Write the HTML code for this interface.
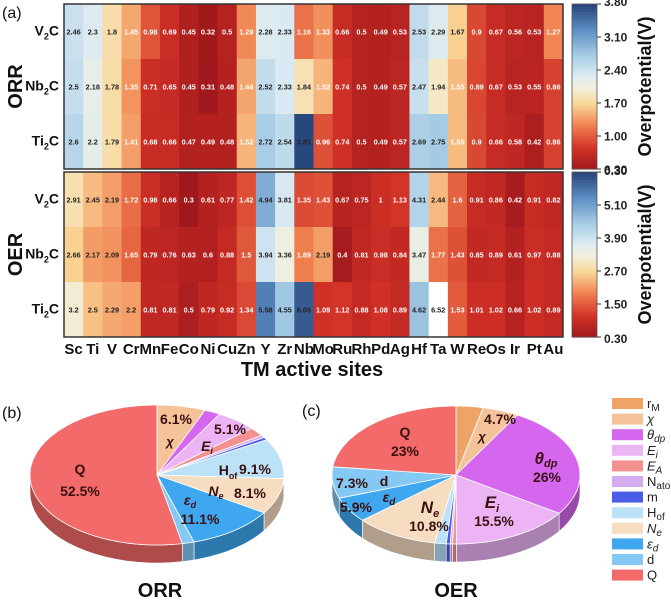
<!DOCTYPE html>
<html><head><meta charset="utf-8">
<style>
html,body{margin:0;padding:0;background:#fff;}
svg{display:block;font-family:"Liberation Sans",Arial,sans-serif;}
</style></head>
<body>
<svg id="fig" width="671" height="604" viewBox="0 0 671 604" xmlns="http://www.w3.org/2000/svg"></svg>
<script>
// ---- heatmap data ----
const elements = ["Sc","Ti","V","Cr","Mn","Fe","Co","Ni","Cu","Zn","Y","Zr","Nb","Mo","Ru","Rh","Pd","Ag","Hf","Ta","W","Re","Os","Ir","Pt","Au"];
const substrates = ["V","Nb","Ti"];
const orrV = [2.46,2.3,1.8,1.45,0.98,0.69,0.45,0.32,0.5,1.29,2.28,2.33,1.16,1.33,0.66,0.5,0.49,0.53,2.53,2.29,1.67,0.9,0.67,0.56,0.53,1.27];
const orrNb = [2.5,2.18,1.78,1.35,0.71,0.65,0.45,0.31,0.48,1.44,2.52,2.33,1.84,1.52,0.74,0.5,0.49,0.57,2.47,1.94,1.55,0.89,0.67,0.53,0.55,0.86];
const orrTi = [2.6,2.2,1.79,1.41,0.68,0.66,0.47,0.49,0.48,1.52,2.72,2.54,3.81,0.96,0.74,0.5,0.49,0.57,2.69,2.75,1.55,0.9,0.66,0.58,0.42,0.86];
const oerV = [2.91,2.45,2.19,1.72,0.98,0.66,0.3,0.61,0.77,1.42,4.94,3.81,1.35,1.43,0.67,0.75,1,1.13,4.31,2.44,1.6,0.91,0.86,0.42,0.91,0.82];
const oerNb = [2.66,2.17,2.09,1.65,0.79,0.76,0.63,0.6,0.88,1.5,3.94,3.36,1.89,2.19,0.4,0.81,0.98,0.84,3.47,1.77,1.43,0.85,0.89,0.61,0.97,0.88];
const oerTi = [3.2,2.5,2.29,2.2,0.81,0.81,0.5,0.79,0.92,1.34,5.58,4.55,6.06,1.09,1.12,0.88,1.08,0.89,4.62,6.52,1.53,1.01,1.02,0.66,1.02,0.89];
const orrTicks = ["0.30","1.00","1.70","2.40","3.10","3.80"];
const oerTicks = ["0.30","1.50","2.70","3.90","5.10","6.30"];
// ---- pie data ----
const pieLabels = ["rM","χ","θdp","Ei","EA","Natom","m","Hof","Ne","εd","d","Q"];
const orrShares = [0,6.1,2,5.1,2,0.6,0.6,9.1,8.1,11.1,1.5,52.5];
const oerShares = [3.5,4.7,26,15.5,0.5,0.3,0.5,1.5,10.8,5.9,7.3,23];
const pieColors = ["#eea466","#f5c39a","#d467ee","#ecb4f5","#f29190","#d3adf0","#4b5fe6","#bce2f8","#f6dcc0","#3fa7ef","#84c9f4","#f26a6a"];

const NS="http://www.w3.org/2000/svg";
const svg=document.getElementById('fig');
function mk(tag,attrs,parent){const e=document.createElementNS(NS,tag);for(const k in attrs)e.setAttribute(k,attrs[k]);(parent||svg).appendChild(e);return e;}

const stops=[[0,[160,24,28]],[0.13,[208,48,38]],[0.27,[240,128,80]],[0.4,[250,214,150]],[0.5,[242,240,222]],[0.58,[218,234,242]],[0.7,[165,203,228]],[0.85,[92,142,196]],[1,[40,72,125]]];
function cmap(t){if(t>1.02)return "rgb(255,255,255)";t=Math.max(0,Math.min(1,t));
 for(let i=1;i<stops.length;i++){if(t<=stops[i][0]){const a=stops[i-1],b=stops[i];const f=(t-a[0])/(b[0]-a[0]);
  const c=a[1].map((v,j)=>Math.round(v+(b[1][j]-v)*f));return `rgb(${c})`;}}return "rgb(40,72,125)";}

const hx0=64,hx1=563,cw=(hx1-hx0)/elements.length,rh=55;
function xCell(i){return hx0+i*cw;}
function drawPanel(rows,y0,vmin,vmax,thr,ticks,name){
 const g=mk('g',{});
 
 
 rows.forEach((row,r)=>{
  row.forEach((v,i)=>{
   const t=(v-vmin)/(vmax-vmin);
   const rc=mk('rect',{x:xCell(i),y:y0+r*rh,width:cw+0.5,height:rh+0.5,fill:cmap(t)},g);
   
   
  });
  row.forEach((v,i)=>{
   const t=(v-vmin)/(vmax-vmin);
   const tx=mk('text',{x:xCell(i)+cw/2,y:y0+r*rh+rh/2+3,'text-anchor':'middle','font-size':'7.3','font-weight':'bold',fill:t<thr?'#fff':'#222'},g);
   tx.textContent=String(v);
   
   
  });
  const lab=mk('text',{x:59,y:y0+r*rh+rh/2+4,'text-anchor':'end','font-size':'14','font-weight':'bold',fill:'#111'},g);
  lab.innerHTML=substrates[r]+'<tspan font-size="9" dy="4">2</tspan><tspan dy="-4">C</tspan>';
  
  
 });
 mk('rect',{x:hx0,y:y0,width:hx1-hx0,height:rh*3,fill:'none',stroke:'#333','stroke-width':1.5},g);
 const cb=mk('g',{});
 
 
 const cbx=572,cbw=25,ch=rh*3;
 for(let k=0;k<60;k++){const t=1-k/60;mk('rect',{x:cbx,y:y0+k*ch/60,width:cbw,height:ch/60+0.6,fill:cmap(t)},cb);}
 mk('rect',{x:cbx,y:y0,width:cbw,height:ch,fill:'none',stroke:'#555','stroke-width':0.8},cb);
 ticks.forEach((tk,k)=>{
  const v=parseFloat(tk);const yy=y0+ch-(v-vmin)/(vmax-vmin)*ch;
  mk('line',{x1:cbx+cbw,x2:cbx+cbw+4,y1:yy,y2:yy,stroke:'#333'},cb);
  let ty=yy+4.5; if(k==ticks.length-1) ty=yy+2; if(k==0) ty=yy+6;
  const tt=mk('text',{x:cbx+cbw+7,y:ty,'font-size':'12','font-weight':'bold',fill:'#222'},cb);
  tt.textContent=tk;
  
  
 });
 const ct=mk('text',{transform:`translate(651,${y0+ch/2}) rotate(-90)`,'text-anchor':'middle','font-size':'18','font-weight':'bold',fill:'#111'},cb);
 ct.textContent='Overpotential(V)';
 
 
 const pt=mk('text',{transform:`translate(22,${y0+ch/2}) rotate(-90)`,'text-anchor':'middle','font-size':'20','font-weight':'bold',fill:'#111'});
 pt.textContent=name.toUpperCase();
 
 
}
drawPanel([orrV,orrNb,orrTi],4,0.3,3.8,0.37,orrTicks,'orr');
drawPanel([oerV,oerNb,oerTi],172,0.3,6.3,0.27,oerTicks,'oer');
elements.forEach((el,i)=>{
 const t=mk('text',{x:xCell(i)+cw/2,y:354,'text-anchor':'middle','font-size':'15','font-weight':'bold',fill:'#111'});
 t.textContent=el;
 
 
});
function plainText(x,y,s,size,weight,name,anchor){const t=mk('text',{x:x,y:y,'font-size':size,'font-weight':weight,fill:'#111','text-anchor':anchor||'start'});t.textContent=s;
 
 return t;}
plainText(312,376,'TM active sites',20,'bold','x-axis-title','middle');
plainText(2,18,'(a)',16,'normal','panel-a-label');
plainText(2,418,'(b)',16,'normal','panel-b-label');
plainText(302,416,'(c)',16,'normal','panel-c-label');
plainText(160,597,'ORR',20,'bold','orr-pie-title','middle');
plainText(456,597,'OER',20,'bold','oer-pie-title','middle');

function shade(hex,f){const n=parseInt(hex.slice(1),16);const r=(n>>16)*f,g=((n>>8)&255)*f,b=(n&255)*f;return `rgb(${r|0},${g|0},${b|0})`;}
function drawPie(shares,cx,cy,rx,ry,dep,name){
 const g=mk('g',{});
 
 
 const tot=shares.reduce((a,b)=>a+b,0);
 const P=(a,dy)=>[cx+rx*Math.sin(a),cy-ry*Math.cos(a)+(dy||0)];
 let acc=0;const segs=[];
 shares.forEach((s,i)=>{const a0=acc/tot*2*Math.PI;acc+=s;const a1=acc/tot*2*Math.PI;segs.push([a0,a1,i]);});
 segs.forEach(([a0,a1,i])=>{
  const s0=Math.max(a0,Math.PI/2),s1=Math.min(a1,3*Math.PI/2);
  if(s1<=s0)return;
  let d='';const N=20;
  for(let k=0;k<=N;k++){const p=P(s0+(s1-s0)*k/N);d+=(k?'L':'M')+p[0].toFixed(1)+','+p[1].toFixed(1);}
  for(let k=N;k>=0;k--){const p=P(s0+(s1-s0)*k/N,dep);d+='L'+p[0].toFixed(1)+','+p[1].toFixed(1);}
  const e=mk('path',{d:d+'Z',fill:shade(pieColors[i],0.72),stroke:'#fff','stroke-width':0.6},g);
  
  
 });
 segs.forEach(([a0,a1,i])=>{
  if(a1-a0<=0)return;
  let d='M'+cx+','+cy;const N=Math.max(4,Math.ceil((a1-a0)*30));
  for(let k=0;k<=N;k++){const p=P(a0+(a1-a0)*k/N);d+='L'+p[0].toFixed(1)+','+p[1].toFixed(1);}
  const e=mk('path',{d:d+'Z',fill:pieColors[i],stroke:'#fff','stroke-width':0.8},g);
  
  
 });
}
drawPie(orrShares,157,475,127,70,18,'orr');
drawPie(oerShares,456,475,124,69,18,'oer');
function lbl(x,y,html,size,name,italic,color){const t=mk('text',{x:x,y:y,'font-size':size,'font-weight':'bold',fill:color||'#3a1010','text-anchor':'middle','font-style':italic?'italic':'normal'});t.innerHTML=html;
 
 }
lbl(80,474,'Q',14,'orr-label-q');lbl(80,496,'52.5%',14,'orr-label-q-pct');
lbl(176,424,'6.1%',14,'orr-label-chi-pct');lbl(170,446,'χ',13,'orr-label-chi',true);
lbl(230,434,'5.1%',14,'orr-label-ei-pct');lbl(207,451,'E<tspan font-size="9" dy="3">i</tspan>',14,'orr-label-ei',true);
lbl(228,475,'H<tspan font-size="9" dy="4">of</tspan>',14,'orr-label-hof');lbl(255,474,'9.1%',14,'orr-label-hof-pct');
lbl(216,496,'N<tspan font-size="9" dy="3">e</tspan>',14,'orr-label-ne',true);lbl(250,498,'8.1%',14,'orr-label-ne-pct');
lbl(190,505,'ε<tspan font-size="9" dy="3">d</tspan>',14,'orr-label-ed',true);lbl(200,524,'11.1%',14,'orr-label-ed-pct');
lbl(405,437,'Q',14,'oer-label-q');lbl(405,456,'23%',14,'oer-label-q-pct');
lbl(500,424,'4.7%',14,'oer-label-chi-pct');lbl(482,441,'χ',13,'oer-label-chi',true);
lbl(546,464,'θ<tspan font-size="11" dy="3">dp</tspan>',17,'oer-label-thdp',true);lbl(547,482,'26%',14,'oer-label-thdp-pct');
lbl(492,508,'E<tspan font-size="11" dy="4">i</tspan>',17,'oer-label-ei',true);lbl(494,526,'15.5%',14,'oer-label-ei-pct');
lbl(430,513,'N<tspan font-size="11" dy="4">e</tspan>',17,'oer-label-ne',true);lbl(429,531,'10.8%',14,'oer-label-ne-pct');
lbl(352,488,'7.3%',14,'oer-label-d-pct');lbl(384,486,'d',14,'oer-label-d');
lbl(389,502,'ε<tspan font-size="10" dy="3">d</tspan>',14,'oer-label-ed',true);lbl(356,512,'5.9%',14,'oer-label-ed-pct');
const legNames=['r<tspan font-size="10" dy="3">M</tspan>','<tspan font-style="italic">χ</tspan>','<tspan font-style="italic">θ<tspan font-size="10" dy="3">dp</tspan></tspan>','<tspan font-style="italic">E<tspan font-size="10" dy="3">i</tspan></tspan>','<tspan font-style="italic">E<tspan font-size="10" dy="3">A</tspan></tspan>','N<tspan font-size="10" dy="3">atom</tspan>','m','H<tspan font-size="10" dy="3">of</tspan>','<tspan font-style="italic">N<tspan font-size="10" dy="3">e</tspan></tspan>','<tspan font-style="italic">ε<tspan font-size="10" dy="3">d</tspan></tspan>','d','Q'];
pieLabels.forEach((n,i)=>{
 const y=398+i*15.6;
 const r=mk('rect',{x:612,y:y,width:31,height:11,fill:pieColors[i]});
 
 
 const t=mk('text',{x:647,y:y+10,'font-size':'13',fill:'#222'});
 t.innerHTML=legNames[i];
 
 
});
</script>
</body></html>
